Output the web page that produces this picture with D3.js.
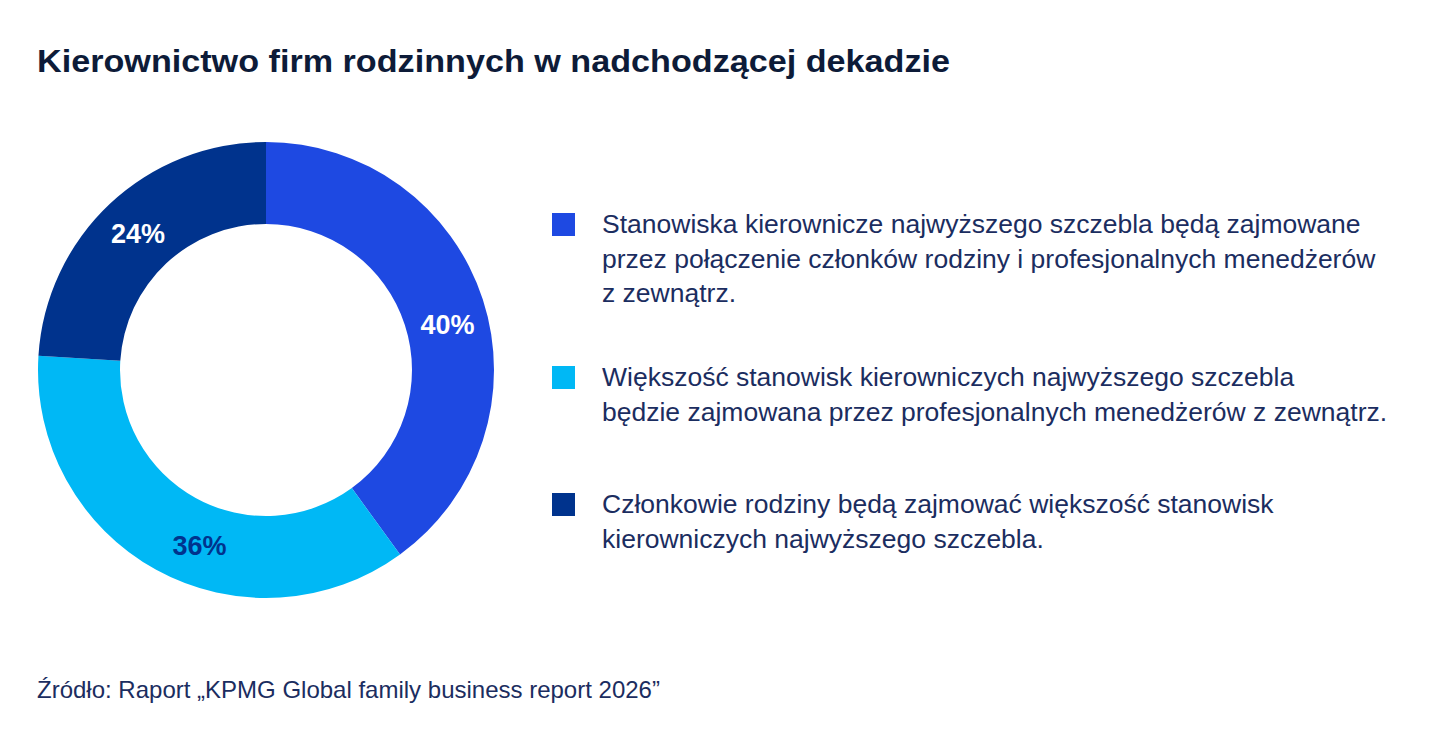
<!DOCTYPE html>
<html>
<head>
<meta charset="utf-8">
<script src="https://cdn.jsdelivr.net/npm/d3@7"></script>
<style>
  body { margin: 0; background: #fff; }
  svg { display: block; font-family: "Liberation Sans", Arial, sans-serif; }
</style>
</head>
<body>
<svg id="chart"></svg>
<script>
const title = 'Kierownictwo firm rodzinnych w nadchodzącej dekadzie'
const source = 'Źródło: Raport „KPMG Global family business report 2026”'

const values = [40, 36, 24]
const colors = ['#1e49e2', '#00b8f5', '#00338d']
const labelColors = ['#ffffff', '#00338d', '#ffffff']
const legendLines = [
  ['Stanowiska kierownicze najwyższego szczebla będą zajmowane',
   'przez połączenie członków rodziny i profesjonalnych menedżerów',
   'z zewnątrz.'],
  ['Większość stanowisk kierowniczych najwyższego szczebla',
   'będzie zajmowana przez profesjonalnych menedżerów z zewnątrz.'],
  ['Członkowie rodziny będą zajmować większość stanowisk',
   'kierowniczych najwyższego szczebla.']
]

const width = 1430, height = 744
const cx = 266, cy = 370, rOuter = 228, rInner = 146

const svg = d3.select('#chart').attr('width', width).attr('height', height)

svg.append('text')
  .attr('x', 37).attr('y', 72)
  .attr('fill', '#0d1b38')
  .style('font-size', '31px').style('font-weight', 'bold')
  .attr('textLength', 913).attr('lengthAdjust', 'spacingAndGlyphs')
  .text(title)

const pie = d3.pie().sort(null).value(d => d)
const arc = d3.arc().innerRadius(rInner).outerRadius(rOuter)
const arcs = pie(values)

const g = svg.append('g').attr('transform', `translate(${cx},${cy})`)

g.selectAll('path.slice')
  .data(arcs)
  .enter().append('path')
  .attr('class', 'slice')
  .attr('d', arc)
  .attr('fill', (d, i) => colors[i])

// small hand nudges of label angle (degrees), as in the original layout
const nudge = [4, -8, 0]
const mid = (rInner + rOuter) / 2
g.selectAll('text.lbl')
  .data(arcs)
  .enter().append('text')
  .attr('class', 'lbl')
  .attr('transform', (d, i) => {
    const a = (d.startAngle + d.endAngle) / 2 + nudge[i] * Math.PI / 180
    return `translate(${mid * Math.sin(a)},${-mid * Math.cos(a)})`
  })
  .attr('text-anchor', 'middle')
  .attr('dy', '0.36em')
  .attr('fill', (d, i) => labelColors[i])
  .style('font-size', '27px').style('font-weight', 'bold')
  .text(d => d.data + '%')

const legendTop = [213, 366, 493]
const lineH = 34.5
const leg = svg.append('g')
legendLines.forEach((lines, i) => {
  leg.append('rect')
    .attr('x', 552).attr('y', legendTop[i])
    .attr('width', 23).attr('height', 23)
    .attr('fill', colors[i])
  const t = leg.append('text')
    .attr('fill', '#1b2d60')
    .style('font-size', '26.5px')
  lines.forEach((s, j) => {
    t.append('tspan')
      .attr('x', 602)
      .attr('y', legendTop[i] + 20 + j * lineH)
      .text(s)
  })
})

svg.append('text')
  .attr('x', 37).attr('y', 698)
  .attr('fill', '#1b2d60')
  .style('font-size', '24px')
  .text(source)
</script>
</body>
</html>
